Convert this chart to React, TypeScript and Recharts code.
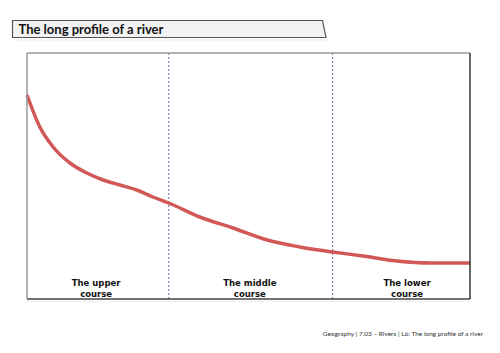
import { Line, LineChart, ReferenceDot, ReferenceLine, XAxis, YAxis } from "recharts";

// distance along the river (0 = source, 100 = mouth) and height above sea level
const distance = [0, 2.9, 5.9, 9.7, 13.5, 17.2, 21, 24.8, 28.4, 32, 39, 46.5, 54.2, 61.6, 69, 75.8, 83.5, 91, 100];
const height = [204, 172, 152, 136, 126, 119, 114, 109, 102, 96, 82, 71, 59, 52, 47, 43, 38, 36, 36];

const courseBreaks = [32, 69];
const courseNames = [
  ["The upper", "course"],
  ["The middle", "course"],
  ["The lower", "course"],
];
const courseLabelX = [15.6, 50.3, 85.8];

const data = distance.map((d, i) => ({ distance: d, height: height[i] }));

function CourseLabel({ viewBox, lines }: { viewBox?: { x: number; y: number }; lines: string[] }) {
  if (!viewBox) return null;
  return (
    <text
      x={viewBox.x}
      y={viewBox.y - 13}
      textAnchor="middle"
      fontFamily="DejaVu Sans"
      fontWeight="bold"
      fontSize={8.5}
      fill="#111"
    >
      <tspan x={viewBox.x} dy={0}>{lines[0]}</tspan>
      <tspan x={viewBox.x} dy={10.5}>{lines[1]}</tspan>
    </text>
  );
}

export default function App() {
  return (
    <div style={{ position: "absolute", left: 0, top: 0, width: 500, height: 353, background: "#fff" }}>
      <svg width={500} height={353} style={{ position: "absolute", left: 0, top: 0 }}>
        <line x1={13} y1={40} x2={330} y2={40} stroke="#eee" strokeWidth={1} />
        <polygon points="12.5,20.5 322.5,20.5 326,37.5 12.5,37.5" fill="#f2f2f2" stroke="#555" strokeWidth={1.2} />
        <text x={18.5} y={33.5} fontFamily="Lato" fontWeight="bold" fontSize={13} fill="#111">
          The long profile of a river
        </text>
        <line x1={27} y1={301.5} x2={470} y2={301.5} stroke="#eee" strokeWidth={1} />
        <text x={483} y={335.5} textAnchor="end" fontFamily="Lato" fontSize={6.5} fill="#333">
          Geography | 7.03 – Rivers | L6: The long profile of a river
        </text>
      </svg>
      <div style={{ position: "absolute", left: 0, top: 0 }}>
        <LineChart width={500} height={353} data={data} margin={{ top: 52, left: 26, right: 29, bottom: 53 }}>
          <XAxis
            xAxisId="bottom"
            dataKey="distance"
            type="number"
            domain={[0, 100]}
            height={1}
            tick={false}
            tickLine={false}
            axisLine={{ stroke: "#444", strokeWidth: 1.5 }}
          />
          <XAxis
            xAxisId="top"
            orientation="top"
            dataKey="distance"
            type="number"
            domain={[0, 100]}
            height={1}
            tick={false}
            tickLine={false}
            axisLine={{ stroke: "#999", strokeWidth: 1.5 }}
          />
          <YAxis
            yAxisId="left"
            type="number"
            domain={[0, 246]}
            width={1}
            tick={false}
            tickLine={false}
            axisLine={{ stroke: "#999", strokeWidth: 1.5 }}
          />
          <YAxis
            yAxisId="right"
            orientation="right"
            type="number"
            domain={[0, 246]}
            width={1}
            tick={false}
            tickLine={false}
            axisLine={{ stroke: "#333", strokeWidth: 1.5 }}
          />
          {courseBreaks.map((x) => (
            <ReferenceLine
              key={x}
              x={x}
              xAxisId="bottom"
              yAxisId="left"
              stroke="#6a6a96"
              strokeDasharray="2 2"
              strokeWidth={1}
            />
          ))}
          {courseNames.map((lines, i) => (
            <ReferenceDot
              key={lines[0]}
              x={courseLabelX[i]}
              y={0}
              xAxisId="bottom"
              yAxisId="left"
              r={0}
              stroke="none"
              fill="none"
              label={<CourseLabel lines={lines} />}
            />
          ))}
          <Line
            xAxisId="bottom"
            yAxisId="left"
            type="monotone"
            dataKey="height"
            stroke="#d25858"
            strokeWidth={3.5}
            dot={false}
            isAnimationActive={false}
          />
          <Line
            xAxisId="top"
            yAxisId="right"
            dataKey="height"
            stroke="none"
            dot={false}
            activeDot={false}
            legendType="none"
            isAnimationActive={false}
          />
        </LineChart>
      </div>
    </div>
  );
}
